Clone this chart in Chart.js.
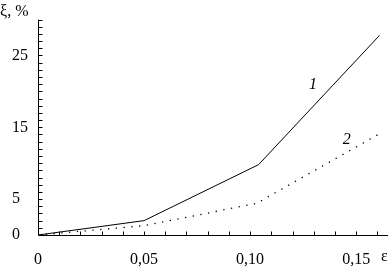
<!DOCTYPE html>
<html>
<head>
<meta charset="utf-8">
<script src="https://cdn.jsdelivr.net/npm/chart.js@4/dist/chart.umd.min.js"></script>
<style>
  html, body { margin: 0; padding: 0; background: #fff; }
  #wrap { width: 390px; height: 268px; }
</style>
</head>
<body>
<div id="wrap"><canvas id="chart" width="390" height="268"></canvas></div>
<script>
// strain values (x) and xi, % (y) for the two curves
const strain1 = [0, 0.05, 0.104, 0.161];
const xi1 = [0, 2.0, 9.8, 27.8];
const strain2 = [0, 0.05, 0.103, 0.161];
const xi2 = [0, 1.3, 4.4, 14.1];

const xTickValues = [0, 0.05, 0.10, 0.15];
const yTickValues = [0, 5, 15, 25];

// curve labels placed in data units
const curveLabels = [
    { text: '1', x: 0.1296, y: 20.9 },
    { text: '2', x: 0.1455, y: 13.2 }
];

const FONT = '"Liberation Serif", "Times New Roman", serif';

function fmtComma(v) {
    if (v === 0) return '0';
    return v.toFixed(2).replace('.', ',');
}

// axes lines, inward minor ticks, and extra text
const axisPlugin = {
    id: 'axisPlugin',
    afterDraw(chart) {
        const { ctx, chartArea, scales } = chart;
        const xs = scales.x, ys = scales.y;
        const x0 = Math.round(xs.getPixelForValue(0)) + 0.5;
        const y0 = Math.round(ys.getPixelForValue(0)) + 0.5;

        ctx.save();
        ctx.strokeStyle = '#000';
        ctx.lineWidth = 1;
        ctx.beginPath();
        ctx.moveTo(x0, chartArea.top);
        ctx.lineTo(x0, y0);
        ctx.lineTo(chartArea.right, y0);
        ctx.stroke();

        // y minor ticks every 1
        ctx.beginPath();
        for (let v = 1; v <= 30; v++) {
            const py = Math.round(ys.getPixelForValue(v)) + 0.5;
            if (py < chartArea.top) break;
            ctx.moveTo(x0, py);
            ctx.lineTo(x0 + 4, py);
        }
        // x minor ticks every 0.01
        for (let i = 1; i <= 16; i++) {
            const px = Math.round(xs.getPixelForValue(i * 0.01)) + 0.5;
            if (px > chartArea.right) break;
            ctx.moveTo(px, y0);
            ctx.lineTo(px, y0 - 4);
        }
        ctx.stroke();

        ctx.fillStyle = '#000';
        ctx.font = '16px ' + FONT;
        ctx.textBaseline = 'middle';
        ctx.textAlign = 'left';
        ctx.fillText('ξ, %', 0, 12);
        ctx.fillText('ε', 381, 257);

        ctx.font = 'italic 16px ' + FONT;
        ctx.textAlign = 'center';
        curveLabels.forEach(l => {
            ctx.fillText(l.text, xs.getPixelForValue(l.x), ys.getPixelForValue(l.y));
        });
        ctx.restore();
    }
};

new Chart(document.getElementById('chart'), {
    type: 'line',
    data: {
        datasets: [
            {
                label: '1',
                data: strain1.map((x, i) => ({ x: x, y: xi1[i] })),
                borderColor: '#000',
                borderWidth: 1,
                pointRadius: 0,
                tension: 0
            },
            {
                label: '2',
                data: strain2.map((x, i) => ({ x: x, y: xi2[i] })),
                borderColor: '#000',
                borderWidth: 1.3,
                borderDash: [1.3, 6.5],
                pointRadius: 0,
                tension: 0
            }
        ]
    },
    options: {
        responsive: false,
        animation: false,
        layout: { padding: { top: 9, right: 2, left: 12, bottom: 0 } },
        plugins: {
            legend: { display: false },
            tooltip: { enabled: false }
        },
        scales: {
            x: {
                type: 'linear',
                min: 0,
                max: 0.165,
                grid: { display: false, drawTicks: false },
                border: { display: false },
                afterFit(scale) { scale.height = 33; },
                afterBuildTicks(scale) {
                    scale.ticks = xTickValues.map(v => ({ value: v }));
                },
                ticks: {
                    color: '#000',
                    padding: 15,
                    maxRotation: 0,
                    font: { family: FONT, size: 16 },
                    callback: (v) => fmtComma(v)
                }
            },
            y: {
                type: 'linear',
                min: 0,
                max: 30,
                grid: { display: false, drawTicks: false },
                border: { display: false },
                afterFit(scale) { scale.width = 26; },
                afterBuildTicks(scale) {
                    scale.ticks = yTickValues.map(v => ({ value: v }));
                },
                ticks: {
                    color: '#000',
                    crossAlign: 'far',
                    padding: 10,
                    font: { family: FONT, size: 16 },
                    callback: (v) => String(v)
                }
            }
        }
    },
    plugins: [axisPlugin]
});
</script>
</body>
</html>
